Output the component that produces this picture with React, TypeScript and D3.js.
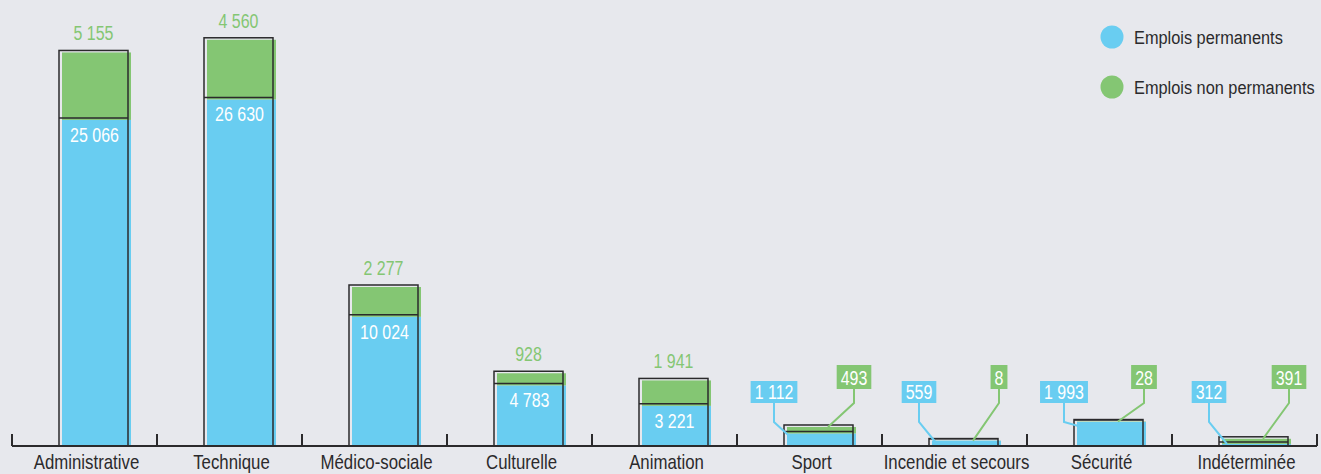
import * as d3 from 'd3'
import React, { useEffect, useRef } from 'react'

const categories = [
  'Administrative',
  'Technique',
  'Médico-sociale',
  'Culturelle',
  'Animation',
  'Sport',
  'Incendie et secours',
  'Sécurité',
  'Indéterminée',
]
const permanents = [25066, 26630, 10024, 4783, 3221, 1112, 559, 1993, 312]
const nonPermanents = [5155, 4560, 2277, 928, 1941, 493, 8, 28, 391]
const seriesNames = ['Emplois permanents', 'Emplois non permanents']

const width = 1321
const height = 474
const blue = '#69cdf1'
const green = '#84c673'
const ink = '#2b2a2c'
const font = "'Liberation Sans', Arial, sans-serif"

const fmt = (n: number) => String(n).replace(/\B(?=(\d{3})+(?!\d))/g, ' ')

type Sel = d3.Selection<SVGGElement, unknown, null, undefined>

// condensed text helper (the original uses a condensed face)
const narrowText = (g: Sel, x: number, y: number, text: string, squeeze: number, anchor = 'middle') =>
  g.append('text')
    .attr('transform', `translate(${x},${y}) scale(${squeeze},1)`)
    .attr('text-anchor', anchor)
    .text(text)

const App: React.FC = () => {
  const ref = useRef<SVGSVGElement>(null)

  useEffect(() => {
    document.body.style.margin = '0'
    document.body.style.background = '#e7e8ed'

    const svg = d3.select(ref.current)
    svg.selectAll('*').remove()

    const x = d3.scaleBand().domain(categories).range([12, 1317])
    const y = d3.scaleLinear().domain([0, 34000]).range([446, 1])
    const barW = 69
    const barOff = 47
    const dx = 3
    const dy = 2

    const data = categories.map((c, i) => ({
      name: c,
      perm: permanents[i],
      nonPerm: nonPermanents[i],
      total: permanents[i] + nonPermanents[i],
    }))

    const bars = svg.append('g')

    data.forEach((d) => {
      const left = (x(d.name) || 0) + barOff
      const top = y(d.total)
      const mid = y(d.perm)
      const base = y(0)

      // coloured fills, slightly shifted
      bars.append('rect')
        .attr('x', left + dx).attr('y', mid + dy)
        .attr('width', barW).attr('height', Math.max(0, base - mid - dy))
        .attr('fill', blue)
      bars.append('rect')
        .attr('x', left + dx).attr('y', top + dy)
        .attr('width', barW).attr('height', Math.max(0, mid - top))
        .attr('fill', green)

      // outline
      bars.append('rect')
        .attr('x', left).attr('y', top)
        .attr('width', barW).attr('height', base - top)
        .attr('fill', 'none').attr('stroke', ink).attr('stroke-width', 1.5)
      bars.append('line')
        .attr('x1', left).attr('x2', left + barW)
        .attr('y1', mid).attr('y2', mid)
        .attr('stroke', ink).attr('stroke-width', 1.5)
    })

    // axis
    const axis = svg.append('g')
    axis.append('line')
      .attr('x1', 12).attr('x2', 1317).attr('y1', 446).attr('y2', 446)
      .attr('stroke', ink).attr('stroke-width', 2)
    const ticks = [...categories.map((c) => x(c) || 0), 1317]
    axis.selectAll('.tick')
      .data(ticks)
      .enter()
      .append('line')
      .attr('x1', (d) => d).attr('x2', (d) => d)
      .attr('y1', 446).attr('y2', 434)
      .attr('stroke', ink).attr('stroke-width', 2)
    const axisLabels = axis.append('g')
      .attr('font-family', font).attr('font-size', 20.5).attr('fill', ink)
    categories.forEach((c) => {
      narrowText(axisLabels, (x(c) || 0) + x.bandwidth() / 2 + 2, 469, c, 0.82)
    })

    // value labels
    const labels = svg.append('g').attr('font-family', font).attr('font-size', 21)
    const sq = 0.76
    data.forEach((d) => {
      const left = (x(d.name) || 0) + barOff
      const right = left + barW
      const cx = left + barW / 2
      const top = y(d.total)
      const mid = y(d.perm)
      const base = y(0)

      if (d.total > 3000) {
        narrowText(labels, cx, top - 10, fmt(d.nonPerm), sq).attr('fill', green)
        narrowText(labels, cx + 1, mid + 24, fmt(d.perm), sq).attr('fill', '#fff')
        return
      }

      // callouts for small bars
      const callout = (text: string, color: string, bx: number, btop: number, bh: number, drop: number, ex: number, ey: number) => {
        const g = labels.append('g')
        g.append('polyline')
          .attr('points', `${bx},${btop + bh} ${bx},${btop + bh + drop} ${ex},${ey}`)
          .attr('fill', 'none').attr('stroke', color).attr('stroke-width', 2)
        const rect = g.append('rect').attr('fill', color)
        const t = narrowText(g, bx, btop + bh - 4, text, sq).attr('fill', '#fff')
        const w = (t.node() as SVGTextElement).getComputedTextLength() * sq + 8
        rect.attr('x', bx - w / 2).attr('y', btop).attr('width', w).attr('height', bh)
      }

      callout(fmt(d.perm), blue, left - 10, 381, 22, 19, left + 8, Math.min(mid + 7, base - 2))
      callout(fmt(d.nonPerm), green, right + 1, 365, 24, 14, right - 25, top + 2)
    })

    // legend
    const legend = svg.append('g').attr('font-family', font).attr('font-size', 19).attr('fill', ink)
    seriesNames.forEach((s, i) => {
      legend.append('circle')
        .attr('cx', 1112).attr('cy', 37 + i * 50).attr('r', 11.5)
        .attr('fill', i === 0 ? blue : green)
      narrowText(legend, 1134, 44 + i * 50, s, 0.86, 'start')
    })
  }, [])

  return (
    <svg ref={ref} width={width} height={height} style={{ display: 'block', background: '#e7e8ed' }} />
  )
}

export default App
